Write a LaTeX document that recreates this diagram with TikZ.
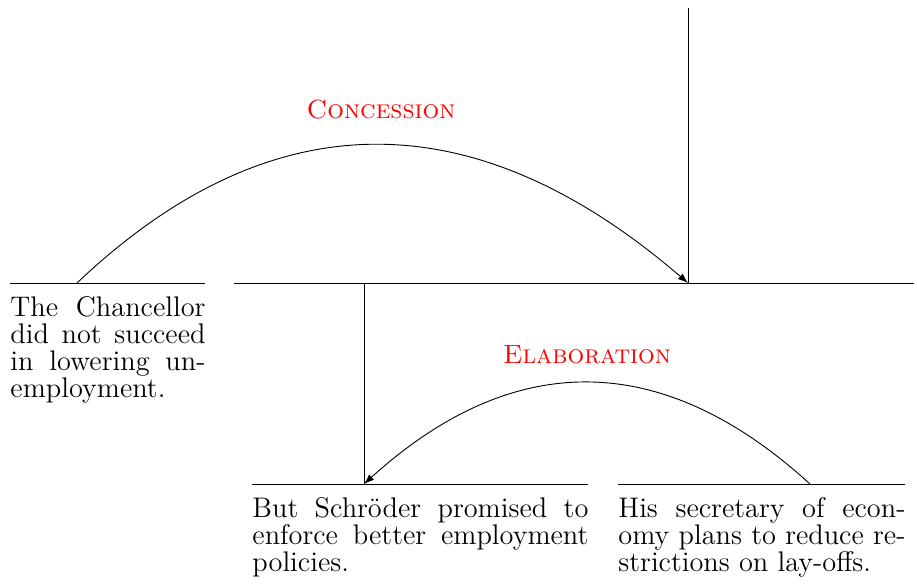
\documentclass[tikz,border=0pt]{standalone}
\usetikzlibrary{arrows.meta}
\begin{document}
\begin{tikzpicture}[x=0.4444pt,y=-0.4444pt,
  font=\fontsize{12.6}{12}\selectfont,
  leaf/.style={anchor=north west,inner sep=0pt,align=justify},
  rel/.style={text=red,font=\fontsize{11.7}{12}\selectfont\scshape},
  arc/.style={-{Latex[length=4.5pt,width=3.2pt]}}]
\useasboundingbox (0,0) rectangle (917,585);
% leaf lines and texts
\coordinate (A1) at (10,283); \coordinate (A2) at (205,283);
\coordinate (B1) at (252,484); \coordinate (B2) at (588,484);
\coordinate (C1) at (618,484); \coordinate (C2) at (905,484);
\coordinate (S1) at (234,283); \coordinate (S2) at (914,283);
\coordinate (Top) at (688,8); \coordinate (SN) at (688,283);
\coordinate (BN) at (364,484); \coordinate (SV) at (364,283);
\coordinate (CA) at (77,283); \coordinate (EA) at (810,484);
\draw (A1) -- (A2);
\draw (B1) -- (B2);
\draw (C1) -- (C2);
\draw (S1) -- (S2);
\draw (Top) -- (SN);
\draw (SV) -- (BN);
\node[leaf,text width=86.7pt] (ta) at (10,296.3) {The Chancellor\linebreak did not succeed\linebreak in lowering un-\linebreak employment.};
\node[leaf,text width=149.3pt] (tb) at (252,497.3) {But Schr\"oder promised to\linebreak enforce better employment\linebreak policies.};
\node[leaf,text width=127.6pt] (tc) at (618,497.3) {His secretary of econ-\linebreak omy plans to reduce re-\linebreak strictions on lay-offs.};
% relations
\draw[arc] (CA) .. controls (271,99) and (474,99) .. (SN);
\draw[arc] (EA) .. controls (662,349) and (513,349) .. (BN);
\node[rel] (lc) at (381,110) {Concession};
\node[rel] (le) at (587,355) {Elaboration};
\end{tikzpicture}
\end{document}
